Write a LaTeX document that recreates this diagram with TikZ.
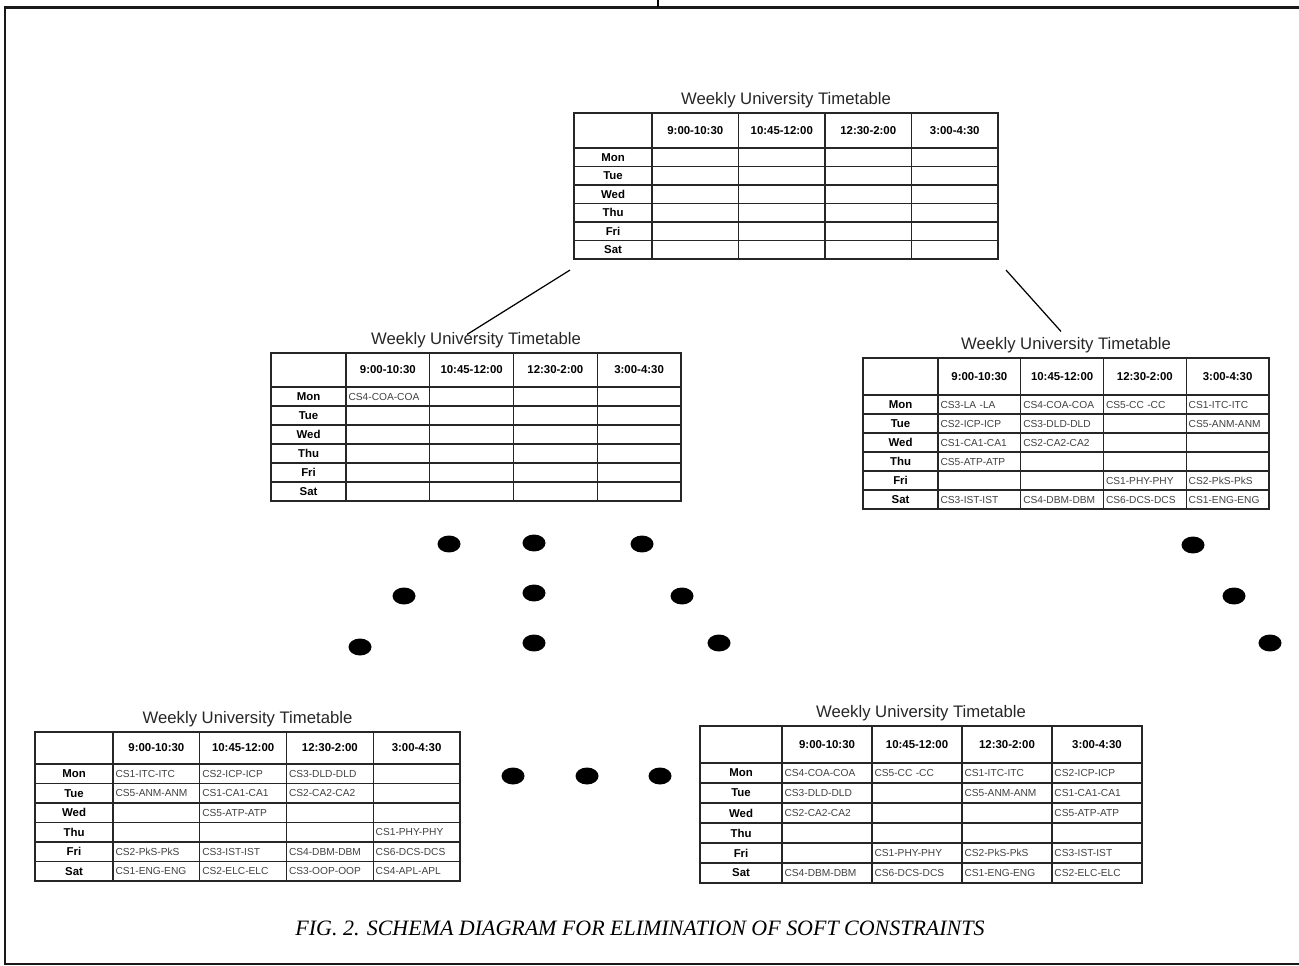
\documentclass[tikz,border=0pt]{standalone}
\usepackage{fontspec}
\setmainfont{Liberation Serif}
\setsansfont{Liberation Sans}
\usetikzlibrary{matrix}
\usetikzlibrary{positioning}
\usetikzlibrary{calc}
\usetikzlibrary{shapes.geometric}

\newcommand{\hdfont}{\sffamily\bfseries\fontsize{6.5}{7}\selectfont}
\newcommand{\entfont}{\sffamily\fontsize{5.8}{7}\selectfont}

\begin{document}
\begin{tikzpicture}[x=0.02cm, y=-0.02cm,
  cell/.style={draw=black!85, line width=0.8pt, anchor=center, inner xsep=0.05cm, inner ysep=0pt, font=\entfont, text=black!75, align=left},
  tbl/.style n args={4}{matrix of nodes, nodes in empty cells, anchor=north west, inner sep=0pt, column sep=-0.8pt, row sep=-0.8pt,
    nodes={cell, text width=#2, minimum height=#4},
    column 1/.style={nodes={text width=#1, align=center, font=\hdfont, text=black}},
    row 1/.style={nodes={minimum height=#3, align=center, font=\hdfont, text=black}}},
  ttl/.style={font=\sffamily\fontsize{9.5}{11}\selectfont, text=black!85, inner sep=1pt},
  dot/.style={ellipse, fill=black, minimum width=0.46cm, minimum height=0.34cm, inner sep=0pt},
  link/.style={black, line width=0.7pt},
  frame/.style={black!90, line width=1.7pt}]

\useasboundingbox (0,0) rectangle (1299,966);

%\draw[step=50, gray, very thin, dotted] (0,0) grid (1299,966);

\draw[frame] (1299,7.5) -| (5,964) -- (1299,964);
\draw[black, line width=1.2pt] (658,0) -- (658,7.5);

% empty timetable
\matrix (tA) at (573,112) [tbl={1.46cm}{1.63cm}{0.70cm}{0.37cm}] {
     & 9:00-10:30 & 10:45-12:00 & 12:30-2:00 & 3:00-4:30 \\
 Mon & & & & \\
 Tue & & & & \\
 Wed & & & & \\
 Thu & & & & \\
 Fri & & & & \\
 Sat & & & & \\
};
\node[ttl, above=1pt of tA] (hA) {Weekly University Timetable};

\matrix (tB) at (270,352) [tbl={1.40cm}{1.575cm}{0.68cm}{0.38cm}] {
     & 9:00-10:30 & 10:45-12:00 & 12:30-2:00 & 3:00-4:30 \\
 Mon & CS4-COA-COA & & & \\
 Tue & & & & \\
 Wed & & & & \\
 Thu & & & & \\
 Fri & & & & \\
 Sat & & & & \\
};
\node[ttl, above=1pt of tB] (hB) {Weekly University Timetable};

\matrix (tC) at (862,357) [tbl={1.40cm}{1.555cm}{0.74cm}{0.38cm}] {
     & 9:00-10:30 & 10:45-12:00 & 12:30-2:00 & 3:00-4:30 \\
 Mon & CS3-LA -LA & CS4-COA-COA & CS5-CC -CC & CS1-ITC-ITC \\
 Tue & CS2-ICP-ICP & CS3-DLD-DLD & & CS5-ANM-ANM \\
 Wed & CS1-CA1-CA1 & CS2-CA2-CA2 & & \\
 Thu & CS5-ATP-ATP & & & \\
 Fri & & & CS1-PHY-PHY & CS2-PkS-PkS \\
 Sat & CS3-IST-IST & CS4-DBM-DBM & CS6-DCS-DCS & CS1-ENG-ENG \\
};
\node[ttl, above=1pt of tC] (hC) {Weekly University Timetable};

\matrix (tD) at (34,731) [tbl={1.46cm}{1.635cm}{0.64cm}{0.39cm}] {
     & 9:00-10:30 & 10:45-12:00 & 12:30-2:00 & 3:00-4:30 \\
 Mon & CS1-ITC-ITC & CS2-ICP-ICP & CS3-DLD-DLD & \\
 Tue & CS5-ANM-ANM & CS1-CA1-CA1 & CS2-CA2-CA2 & \\
 Wed & & CS5-ATP-ATP & & \\
 Thu & & & & CS1-PHY-PHY \\
 Fri & CS2-PkS-PkS & CS3-IST-IST & CS4-DBM-DBM & CS6-DCS-DCS \\
 Sat & CS1-ENG-ENG & CS2-ELC-ELC & CS3-OOP-OOP & CS4-APL-APL \\
};
\node[ttl, above=1pt of tD] (hD) {Weekly University Timetable};

\matrix (tE) at (699,725) [tbl={1.54cm}{1.70cm}{0.74cm}{0.40cm}] {
     & 9:00-10:30 & 10:45-12:00 & 12:30-2:00 & 3:00-4:30 \\
 Mon & CS4-COA-COA & CS5-CC -CC & CS1-ITC-ITC & CS2-ICP-ICP \\
 Tue & CS3-DLD-DLD & & CS5-ANM-ANM & CS1-CA1-CA1 \\
 Wed & CS2-CA2-CA2 & & & CS5-ATP-ATP \\
 Thu & & & & \\
 Fri & & CS1-PHY-PHY & CS2-PkS-PkS & CS3-IST-IST \\
 Sat & CS4-DBM-DBM & CS6-DCS-DCS & CS1-ENG-ENG & CS2-ELC-ELC \\
};
\node[ttl, above=1pt of tE] (hE) {Weekly University Timetable};

\draw[link] ($(tA.south west)+(-3,10)$) -- ($(hB.north)+(-9,4)$);
\draw[link] ($(tA.south east)+(7,10)$) -- ($(hC.north)+(-5,-4)$);

% dots
\foreach \x/\y [count=\i] in {449/544, 534/543, 642/544, 1193/545, 404/596, 534/593, 682/596, 1234/596,
    360/647, 534/643, 719/643, 1270/643, 513/776, 587/776, 660/776}
  \node[dot] (d\i) at (\x,\y) {};

\node[font=\itshape\fontsize{12.5}{14}\selectfont] (cap) at (640,928) {FIG. 2. SCHEMA DIAGRAM FOR ELIMINATION OF SOFT CONSTRAINTS};

\end{tikzpicture}
\end{document}
